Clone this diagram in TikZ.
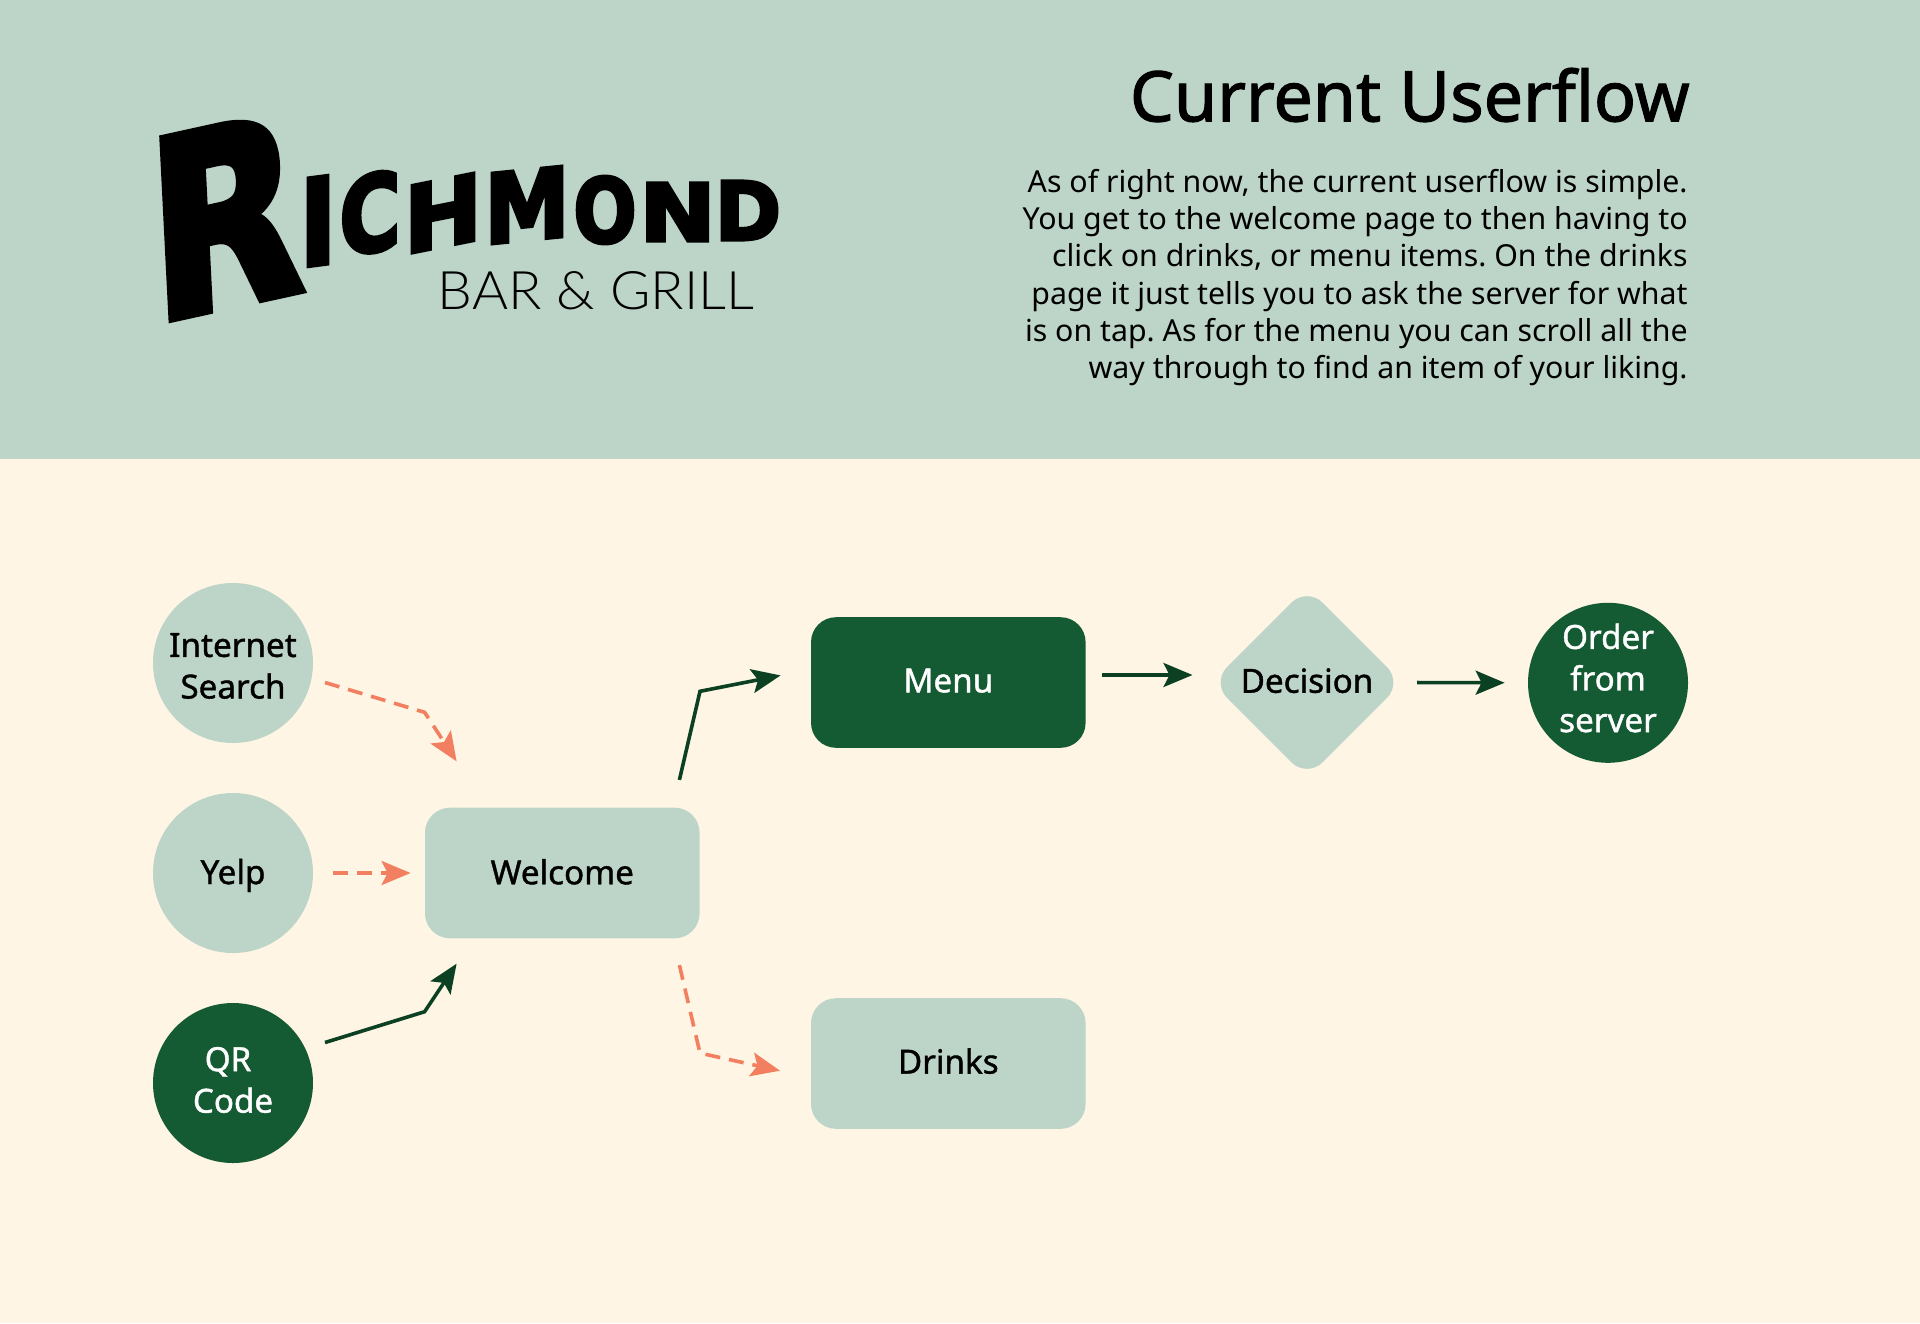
\documentclass[tikz,border=0pt]{standalone}
\usepackage{fontspec}
\usepackage{graphicx}
\usetikzlibrary{arrows.meta,calc,shapes.geometric}
\setmainfont{Noto Sans}
\newfontfamily\lblfont{Noto Sans}[FakeBold=1.2]
\newfontfamily\titlefont{Noto Sans}[FakeBold=1.6]
\newfontfamily\logofont{DejaVu Sans}[BoldFeatures={FakeBold=4}]
\newfontfamily\thinfont{Lato Light}
\newdimen\pxu \pxu=.5pt
\definecolor{sage}{HTML}{BDD4C8}
\definecolor{cream}{HTML}{FEF5E4}
\definecolor{forest}{HTML}{145A32}
\definecolor{arrowgreen}{HTML}{0B4023}
\definecolor{coral}{HTML}{F27F5F}
\tikzset{
  lbl/.style={font=\lblfont\fontsize{16.6}{20.8}\selectfont,align=center,inner sep=0pt},
  roundbox/.style={rectangle,rounded corners=12.5pt,minimum width=137.3pt,minimum height=65.3pt,inner sep=0pt},
  disc/.style={circle,minimum size=80pt,inner sep=0pt},
  lightfill/.style={fill=sage},
  darkfill/.style={fill=forest},
  solidflow/.style={draw=arrowgreen,line width=1.8pt,-{Stealth[length=14.5pt,width=12pt,inset=3pt]}},
  dashflow/.style={draw=coral,line width=1.8pt,dash pattern=on 7.5pt off 4.5pt,-{Stealth[length=14.5pt,width=12pt,inset=3pt,sep=0pt]}},
}
\newcommand\logoletter[7]{%
  \begin{scope}[shift={(#3,#4)},#7]
    \node[transform shape,inner sep=0pt,outer sep=0pt,text=black] (#1) at (0,0) {\resizebox{#5\pxu}{#6\pxu}{\logofont\bfseries #2}};
  \end{scope}}
\begin{document}
\frenchspacing
\begin{tikzpicture}[x=.5pt,y=-.5pt]
\useasboundingbox (0,0) rectangle (1920,1323);
\fill[cream] (0,0) rectangle (1920,1323);
\fill[sage] (0,0) rectangle (1920,459);
% logo
\logoletter{logoR}{R}{225}{216}{150}{180}{yslant=.22,xslant=-.05}
\logoletter{logoI}{I}{318}{221}{37}{87}{yslant=.13}
\logoletter{logoC}{C}{370}{213.5}{61}{78}{yslant=.2}
\logoletter{logoH}{H}{443}{213}{78}{67}{yslant=.2}
\logoletter{logoM}{M}{527}{205}{85}{70}{yslant=.1}
\logoletter{logoO}{O}{605}{210}{63}{66}{yslant=0}
\logoletter{logoN}{N}{677.5}{212}{76}{58}{yslant=0}
\logoletter{logoD}{D}{748}{210.5}{66}{59}{yslant=0}
\node[inner sep=0pt] (bargrill) at (596,291) {\resizebox{316\pxu}{38\pxu}{\thinfont BAR \& GRILL}};
% header text
\node[anchor=east,inner sep=0pt,font=\titlefont\fontsize{34.9}{40}\selectfont] (title) at (1690,95) {Current Userflow};
\node[anchor=east,inner sep=0pt,align=right,font=\fontsize{15.15}{18.65}\selectfont] (body) at (1688,277.5) {As of right now, the current userflow is simple.\\You get to the welcome page to then having to\\click on drinks, or menu items. On the drinks\\page it just tells you to ask the server for what\\is on tap. As for the menu you can scroll all the\\way through to find an item of your liking.};
% nodes
\node[disc,lightfill,label={[lbl,text=black,yshift=-1.5pt]center:Internet\\Search}] (internet) at (233,663) {};
\node[disc,lightfill,label={[lbl,text=black,yshift=-1.2pt]center:Yelp}] (yelp) at (233,873) {};
\node[disc,darkfill,label={[lbl,text=white,yshift=1.5pt]center:QR\hspace*{5pt}\\Code}] (qr) at (233,1083) {};
\node[roundbox,lightfill,label={[lbl,text=black,yshift=.6pt]center:Welcome}] (welcome) at (562.3,873) {};
\node[roundbox,darkfill,label={[lbl,text=white,yshift=.9pt]center:Menu}] (menu) at (948.3,682.5) {};
\node[roundbox,lightfill,label={[lbl,text=black,yshift=1.2pt]center:Drinks}] (drinks) at (948.3,1063.5) {};
\node[diamond,lightfill,rounded corners=11pt,aspect=1,minimum width=95.6pt,minimum height=95.6pt,inner sep=0pt,label={[lbl,text=black,yshift=.9pt]center:Decision}] (decision) at (1307,682.5) {};
\node[disc,darkfill,label={[lbl,text=white,yshift=2.4pt]center:Order\\from\\server}] (order) at (1608,682.8) {};
% connector ends and bends
\coordinate (s1) at ($(internet)+(92,19.5)$);
\coordinate (b1) at ($(welcome.north west)+(0,-95)$);
\coordinate (e1) at ($(welcome.north west)+(32,-46)$);
\coordinate (s3) at ($(qr)+(92,-40.5)$);
\coordinate (b3) at ($(welcome.south west)+(0,73)$);
\coordinate (e3) at ($(welcome.south west)+(32,25)$);
\coordinate (s4) at ($(welcome.north east)+(-20.6,-27.4)$);
\coordinate (b4) at ($(welcome.north east)+(0,-116)$);
\coordinate (e4) at ($(menu.west)+(-30,-7.1)$);
\coordinate (s5) at ($(welcome.south east)+(-20.6,26.4)$);
\coordinate (b5) at ($(welcome.south east)+(0,114.4)$);
\coordinate (e5) at ($(drinks.west)+(-30.6,7.2)$);
\coordinate (s6) at ($(menu.east)+(16,-7.5)$);
\coordinate (e6) at ($(decision.west)+(-18.5,-7.5)$);
% connectors
\draw[dashflow] (s1) -- (b1) -- (e1);
\draw[dashflow,shorten <=10pt,shorten >=7pt] (yelp) -- (welcome);
\draw[solidflow] (s3) -- (b3) -- (e3);
\draw[solidflow] (s4) -- (b4) -- (e4);
\draw[dashflow] (s5) -- (b5) -- (e5);
\draw[solidflow] (s6) -- (e6);
\draw[solidflow,shorten <=7pt,shorten >=11.5pt] (decision.east) -- (order.west);
\end{tikzpicture}
\end{document}
